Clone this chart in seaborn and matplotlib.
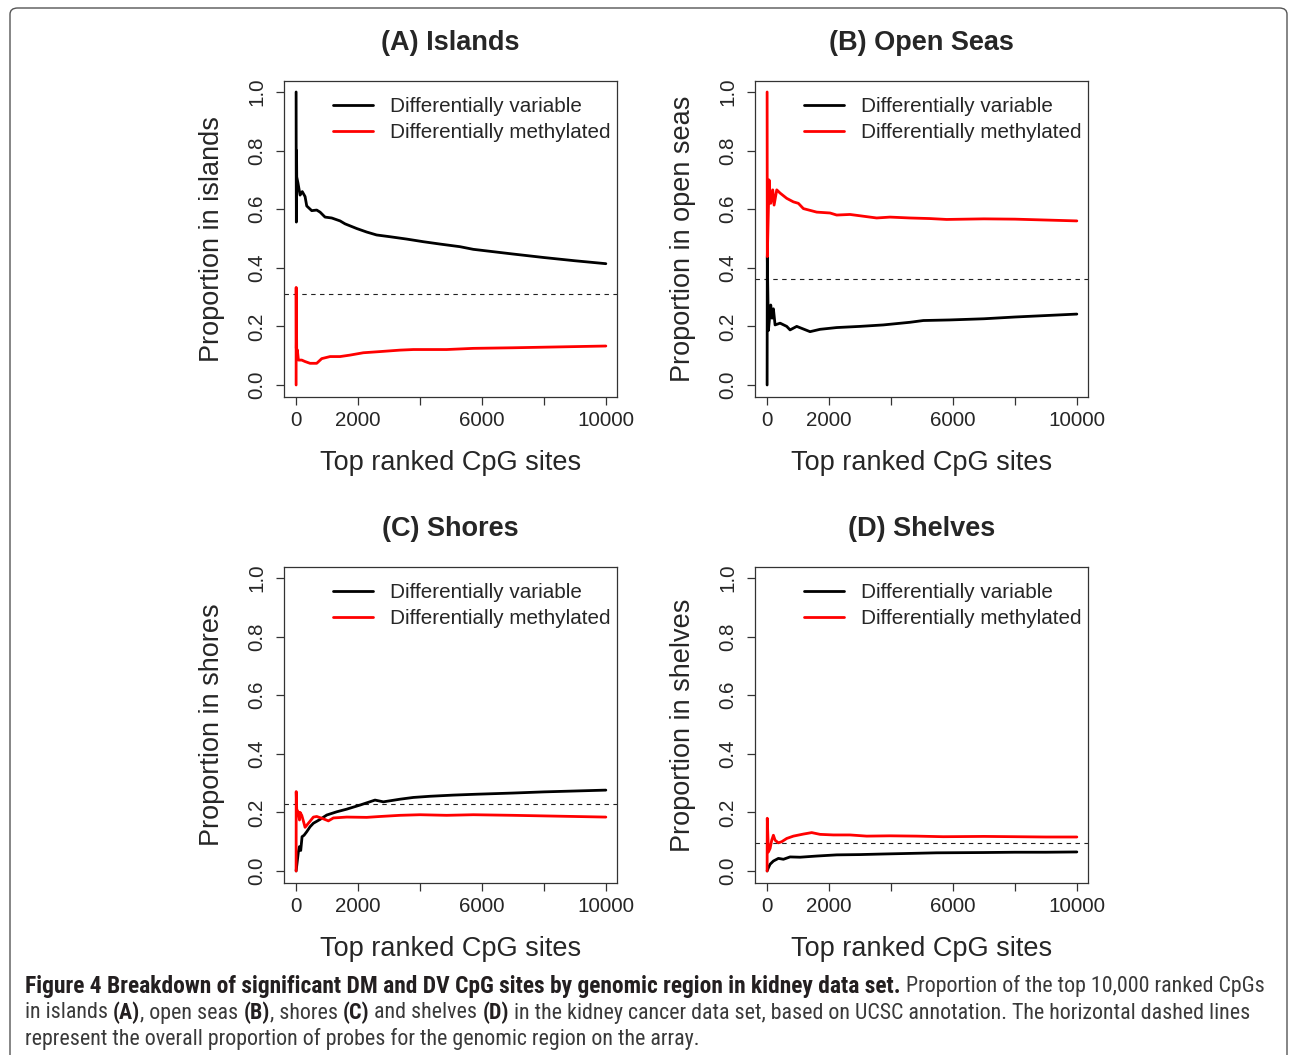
import numpy as np
import pandas as pd
import seaborn as sns
import matplotlib
matplotlib.use("Agg")
import matplotlib.pyplot as plt
from matplotlib.patches import FancyBboxPatch
from matplotlib import font_manager as fm

# ---------------- data ----------------
series_names = ["Differentially variable", "Differentially methylated"]
panel_titles = ["(A) Islands", "(B) Open Seas", "(C) Shores", "(D) Shelves"]
ylabels = ["Proportion in islands", "Proportion in open seas",
           "Proportion in shores", "Proportion in shelves"]
overall_prop = [0.311, 0.361, 0.229, 0.094]

xtick_vals = [0, 2000, 4000, 6000, 8000, 10000]
xtick_labels = ["0", "2000", "", "6000", "", "10000"]
ytick_vals = [0.0, 0.2, 0.4, 0.6, 0.8, 1.0]
ytick_labels = ["0.0", "0.2", "0.4", "0.6", "0.8", "1.0"]

# (A) islands
a_dv_x = [1, 4, 9, 15, 21, 60, 129, 200, 290, 344, 505, 666, 774, 935, 1150, 1420,
          1580, 1957, 2280, 2600, 3030, 3570, 4107, 4645, 5290, 5720, 7000, 8000, 9000, 10000]
a_dv_y = [1.0, 0.75, 0.556, 0.80, 0.71, 0.69, 0.648, 0.66, 0.643, 0.611, 0.595, 0.597,
          0.59, 0.573, 0.57, 0.56, 0.55, 0.534, 0.522, 0.512, 0.506, 0.498, 0.489,
          0.481, 0.472, 0.463, 0.447, 0.435, 0.424, 0.414]
a_dm_x = [1, 3, 8, 15, 21, 40, 75, 183, 290, 450, 666, 828, 1097, 1420, 1742, 2170,
          2710, 3355, 3785, 4860, 5720, 7000, 8000, 9000, 10000]
a_dm_y = [0.0, 0.333, 0.125, 0.20, 0.097, 0.12, 0.085, 0.085, 0.08, 0.074, 0.074,
          0.09, 0.097, 0.097, 0.102, 0.11, 0.114, 0.119, 0.121, 0.121, 0.125, 0.127,
          0.129, 0.131, 0.133]

# (B) open seas
b_dv_x = [1, 7, 43, 118, 161, 204, 258, 420, 634, 742, 957, 1387, 1710, 2247, 3000,
          3753, 4613, 5043, 5903, 7000, 8000, 9000, 10000]
b_dv_y = [0.0, 0.438, 0.186, 0.273, 0.228, 0.26, 0.205, 0.211, 0.20, 0.188, 0.20,
          0.182, 0.19, 0.196, 0.20, 0.205, 0.214, 0.22, 0.222, 0.226, 0.232, 0.237, 0.242]
b_dm_x = [1, 7, 64, 118, 183, 226, 312, 420, 634, 849, 1010, 1172, 1602, 2032, 2247,
          2677, 3107, 3537, 3968, 4613, 5258, 5796, 7000, 8000, 9000, 10000]
b_dm_y = [1.0, 0.438, 0.70, 0.62, 0.666, 0.614, 0.666, 0.655, 0.637, 0.625, 0.62,
          0.602, 0.59, 0.587, 0.58, 0.582, 0.576, 0.57, 0.573, 0.57, 0.568, 0.565,
          0.567, 0.566, 0.563, 0.56]

# (C) shores
c_dv_x = [1, 75, 107, 150, 193, 258, 344, 452, 559, 774, 990, 1312, 1634, 2065, 2548,
          2817, 3355, 3785, 4323, 5075, 5828, 7000, 8000, 9000, 10000]
c_dv_y = [0.0, 0.066, 0.083, 0.07, 0.117, 0.122, 0.134, 0.151, 0.163, 0.176, 0.191,
          0.202, 0.211, 0.225, 0.242, 0.236, 0.245, 0.251, 0.255, 0.259, 0.262, 0.266,
          0.27, 0.273, 0.276]
c_dm_x = [1, 4, 21, 75, 110, 129, 183, 237, 290, 398, 559, 666, 882, 1043, 1204, 1634,
          2280, 2710, 3355, 4000, 4860, 5720, 7000, 8000, 9000, 10000]
c_dm_y = [0.0, 0.271, 0.21, 0.20, 0.174, 0.20, 0.19, 0.17, 0.149, 0.163, 0.184, 0.186,
          0.178, 0.171, 0.181, 0.184, 0.183, 0.186, 0.19, 0.192, 0.19, 0.192, 0.19,
          0.188, 0.186, 0.184]

# (D) shelves
d_dv_x = [1, 43, 97, 204, 366, 527, 742, 1065, 1602, 2247, 3000, 3753, 4613, 5473,
          7000, 8000, 9000, 10000]
d_dv_y = [0.0, 0.011, 0.023, 0.034, 0.043, 0.04, 0.048, 0.047, 0.051, 0.055, 0.056,
          0.058, 0.06, 0.062, 0.063, 0.064, 0.064, 0.065]
d_dm_x = [1, 6, 43, 97, 150, 204, 258, 366, 473, 634, 849, 1172, 1441, 1710, 2140,
          2677, 3215, 3968, 4828, 5688, 7000, 8000, 9000, 10000]
d_dm_y = [0.0, 0.18, 0.065, 0.077, 0.105, 0.122, 0.105, 0.096, 0.10, 0.111, 0.119,
          0.126, 0.131, 0.125, 0.123, 0.123, 0.119, 0.12, 0.119, 0.117, 0.118, 0.117,
          0.116, 0.116]

panel_data = [
    (a_dv_x, a_dv_y, a_dm_x, a_dm_y),
    (b_dv_x, b_dv_y, b_dm_x, b_dm_y),
    (c_dv_x, c_dv_y, c_dm_x, c_dm_y),
    (d_dv_x, d_dv_y, d_dm_x, d_dm_y),
]

caption_lines = [
    [("Figure 4 Breakdown of significant DM and DV CpG sites by genomic region in kidney data set.", True),
     (" Proportion of the top 10,000 ranked CpGs", False)],
    [("in islands ", False), ("(A)", True), (", open seas ", False), ("(B)", True),
     (", shores ", False), ("(C)", True), (" and shelves ", False), ("(D)", True),
     (" in the kidney cancer data set, based on UCSC annotation. The horizontal dashed lines", False)],
    [("represent the overall proportion of probes for the genomic region on the array.", False)],
]

# ---------------- styling ----------------
sns.set_theme(style="ticks")
plt.rcParams["font.family"] = ["Liberation Sans", "DejaVu Sans"]

W, H = 1290, 1055
fig = plt.figure(figsize=(W / 100, H / 100), dpi=100)
fig.patch.set_facecolor("white")

# rounded border
border = FancyBboxPatch((10 / W, -0.02), (1287 - 10) / W, (H - 8) / H + 0.02,
                        boxstyle="round,pad=0,rounding_size=0.006",
                        transform=fig.transFigure, fill=False,
                        edgecolor="#555555", linewidth=1.0, zorder=0)
fig.patches.append(border)

boxes = [(284, 81, 617, 397), (755, 81, 1088, 397),
         (284, 567, 617, 883), (755, 567, 1088, 883)]

TICK_FS = 14.9
LAB_FS = 19.5
palette = {series_names[0]: "black", series_names[1]: "red"}

for i, (l, t, r, b) in enumerate(boxes):
    ax = fig.add_axes([l / W, 1 - b / H, (r - l) / W, (b - t) / H])
    dvx, dvy, dmx, dmy = panel_data[i]
    df = pd.DataFrame({
        "rank": list(dvx) + list(dmx),
        "prop": list(dvy) + list(dmy),
        "series": [series_names[0]] * len(dvx) + [series_names[1]] * len(dmx),
    })
    ax.axhline(overall_prop[i], color="#222222", lw=0.8, ls=(0, (4, 4)), zorder=1)
    sns.lineplot(data=df, x="rank", y="prop", hue="series", hue_order=series_names,
                 palette=palette, estimator=None, sort=False, lw=2.0, ax=ax, zorder=3)
    ax.set_xlim(-390, 10360)
    ax.set_ylim(-0.041, 1.0375)
    ax.set_xticks(xtick_vals)
    ax.set_xticklabels(xtick_labels, fontsize=TICK_FS)
    ax.set_yticks(ytick_vals)
    ax.set_yticklabels(ytick_labels, fontsize=TICK_FS, rotation=90, va="center")
    ax.tick_params(axis="both", direction="out", length=6, width=0.9, color="#333333")
    ax.tick_params(axis="x", pad=4)
    ax.tick_params(axis="y", pad=6.5)
    for s in ax.spines.values():
        s.set_visible(True)
        s.set_linewidth(0.9)
        s.set_color("#333333")
    ax.set_facecolor("white")
    hgt = b - t
    wid = r - l
    ax.set_xlabel("Top ranked CpG sites", fontsize=LAB_FS)
    ax.xaxis.set_label_coords(0.5, -66 / hgt)
    ax.xaxis.label.set_va("center")
    ax.set_ylabel(ylabels[i], fontsize=LAB_FS)
    ax.yaxis.set_label_coords(-72 / wid, 0.5)
    ax.yaxis.label.set_va("center")
    ax.yaxis.label.set_ha("center")
    handles, labels = ax.get_legend_handles_labels()
    ax.legend(handles, labels, loc="upper left",
              bbox_to_anchor=(49 / wid, 1 - 16 / hgt),
              frameon=False, fontsize=TICK_FS, handlelength=1.92, handletextpad=0.85,
              labelspacing=0.36, borderpad=0, borderaxespad=0)
    fig.text(((l + r) / 2) / W, 1 - (t - 38.5) / H, panel_titles[i], ha="center",
             va="center", fontsize=LAB_FS, fontweight="bold")

# ---------------- caption font selection ----------------
COND = {"condensed", "semi-condensed", "extra-condensed", "ultra-condensed"}
groups = {}
for f in fm.fontManager.ttflist:
    st = str(f.stretch)
    cond = ("Condensed" in f.name) or ("Narrow" in f.name) or (st in COND)
    if not cond:
        continue
    try:
        wt = int(f.weight)
    except (TypeError, ValueError):
        wt = {"normal": 400, "regular": 400, "bold": 700, "light": 300}.get(str(f.weight), 400)
    key = (f.name, st if st in COND else "normal")
    groups.setdefault(key, set()).add(wt)

pref = ["Roboto Condensed", "Open Sans Condensed", "Liberation Sans Narrow",
        "Noto Sans", "Open Sans", "DejaVu Sans", "Roboto", "Noto Sans Condensed",
        "DejaVu Sans Condensed"]


def choose(need_bold):
    for nm in pref:
        for (name, st), wts in groups.items():
            if name != nm:
                continue
            if need_bold and any(w >= 600 for w in wts):
                return name, st, max(w for w in wts if w >= 600)
            if not need_bold and any(300 <= w <= 450 for w in wts):
                return name, st, min(wts, key=lambda w: abs(w - 400))
    return None


bold_font = choose(True)
reg_font = choose(False)
if bold_font is None or reg_font is None:
    bold_font = ("Liberation Sans", "normal", 700)
    reg_font = ("Liberation Sans", "normal", 400)

renderer = fig.canvas.get_renderer()


def mk(x, y, s, bold, fs, **kw):
    name, st, wt = bold_font if bold else reg_font
    return fig.text(x, y, s, fontsize=fs, family=[name, "DejaVu Sans"], fontstretch=st,
                    fontweight=wt, **kw)


def text_width(s, bold, fs):
    tt = mk(0, 0, "a" + s + "a", bold, fs)
    w1 = tt.get_window_extent(renderer).width
    tt.remove()
    tt = mk(0, 0, "aa", bold, fs)
    w0 = tt.get_window_extent(renderer).width
    tt.remove()
    return w1 - w0


# fit bold and regular sizes separately to the reference's widths
fs0 = 13.5
bold_seg, reg_seg = caption_lines[0][0][0], caption_lines[0][1][0]
bold_fs = fs0 * 880 / text_width(bold_seg, True, fs0)
reg_fs = fs0 * (1270 - 905) / text_width(reg_seg, False, fs0)
bold_fs = min(max(bold_fs, 11), 17)
reg_fs = min(max(reg_fs, 11), 17)

line_y = [986, 1013, 1039]
for li, (line, yy) in enumerate(zip(caption_lines, line_y)):
    x = 25.0
    for s, bd in line:
        fs = bold_fs if (bd and li == 0) else reg_fs
        mk(x / W, 1 - yy / H, s, bd, fs,
           color="#231f20" if bd else "#3a3a3a", ha="left", va="center")
        x += text_width(s, bd, fs)

fig.savefig("out.png", dpi=100, facecolor="white")
